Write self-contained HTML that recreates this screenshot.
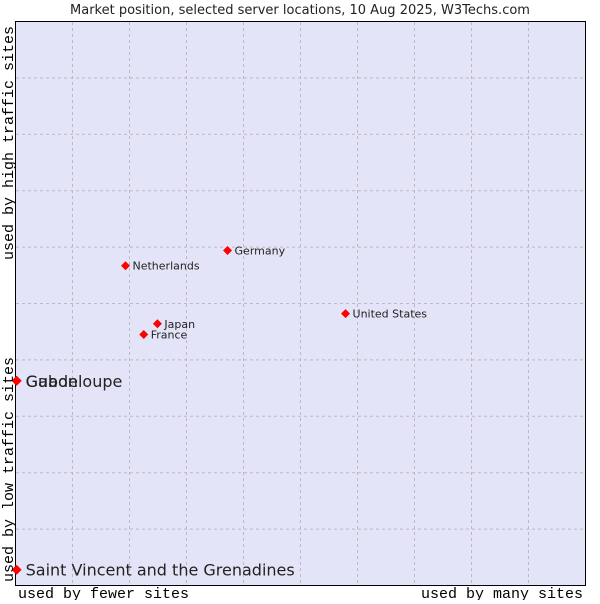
<!DOCTYPE html>
<html><head><meta charset="utf-8"><style>
body{margin:0;background:#fff;width:600px;height:600px;overflow:hidden;font-family:"DejaVu Sans","Liberation Sans",sans-serif}
</style></head><body>
<svg id="c" width="600" height="600">
<text x="300" y="14" text-anchor="middle" font-size="13" fill="#222">Market position, selected server locations, 10 Aug 2025, W3Techs.com</text>
<rect x="15.5" y="21.5" width="570" height="564" fill="#e4e4f8" stroke="#000"/>
<g id="grid"></g>
<g id="pts"></g>
<text x="18" y="598" font-family="Liberation Mono,monospace" font-size="15">used by fewer sites</text>
<text x="583" y="598" text-anchor="end" font-family="Liberation Mono,monospace" font-size="15">used by many sites</text>
<text transform="translate(13,260) rotate(-90)" font-family="Liberation Mono,monospace" font-size="15">used by high traffic sites</text>
<text transform="translate(13,582) rotate(-90)" font-family="Liberation Mono,monospace" font-size="15">used by low traffic sites</text>
</svg>
<script>
const names=["Saint Vincent and the Grenadines","Gabon","Guadeloupe","Netherlands","Germany","Japan","France","United States"];
const xs=[0.2,0.2,0.2,19.3,37.2,24.9,22.5,57.9];
const ys=[2.8,36.3,36.3,56.7,59.4,46.4,44.5,48.2];
const big=[1,1,1,0,0,0,0,0];
const X=v=>15.5+v*5.7, Y=v=>585.5-v*5.64;
const ns="http://www.w3.org/2000/svg";
const g=document.getElementById('grid'),p=document.getElementById('pts');
for(let i=1;i<10;i++){
 let l=document.createElementNS(ns,'line');
 
 
 l.setAttribute('x1',X(i*10));l.setAttribute('x2',X(i*10));l.setAttribute('y1',22);l.setAttribute('y2',585);
 l.setAttribute('stroke','#bbb');l.setAttribute('stroke-dasharray','3,3');g.appendChild(l);
 let h=document.createElementNS(ns,'line');
 
 
 h.setAttribute('y1',Y(i*10));h.setAttribute('y2',Y(i*10));h.setAttribute('x1',16);h.setAttribute('x2',585);
 h.setAttribute('stroke','#bbb');h.setAttribute('stroke-dasharray','3,3');g.appendChild(h);
}
names.forEach((n,i)=>{
 const x=X(xs[i]),y=Y(ys[i]);
 let m=document.createElementNS(ns,'path');
 
 
 const r=big[i]?5:4.5;
 m.setAttribute('d',`M${x} ${y-r}L${x+r} ${y}L${x} ${y+r}L${x-r} ${y}Z`);
 m.setAttribute('fill','#f00');p.appendChild(m);
 let t=document.createElementNS(ns,'text');
 
 
 t.setAttribute('x',x+(big[i]?9:7));t.setAttribute('y',y+(big[i]?6:4));
 t.setAttribute('font-size',big[i]?16:11);t.setAttribute('fill','#222');
 t.textContent=n;p.appendChild(t);
});
</script>
</body></html>
